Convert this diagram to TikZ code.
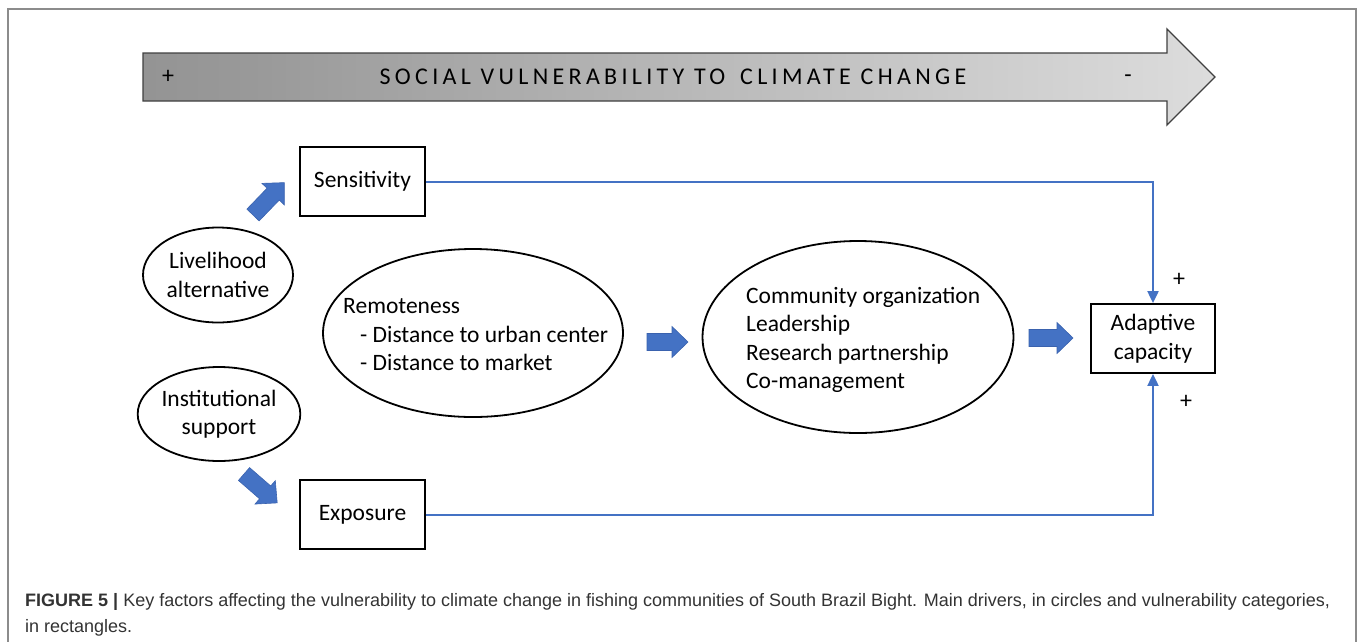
\documentclass[tikz,border=0pt]{standalone}
\usepackage{fontspec}
\setmainfont{Carlito}
\newfontfamily\capfont{Liberation Sans}
\usetikzlibrary{shapes.geometric,arrows.meta,calc}

\definecolor{linkblue}{HTML}{4472C4}
\definecolor{arrowedge}{HTML}{3A62AE}
\definecolor{capgray}{HTML}{333333}
\definecolor{framegray}{HTML}{8C8C8C}

% horizontal grey ramp for the vulnerability arrow
\pgfdeclarehorizontalshading{vulnshade}{100bp}{%
  color(0bp)=(black!52); color(30bp)=(black!40); color(60bp)=(black!22);
  color(85bp)=(black!8); color(100bp)=(black!5)}

\tikzset{
  txt/.style={font=\fontsize{23.5}{28.5}\selectfont},
  catbox/.style={txt, draw, line width=1.8pt, minimum width=125pt,
    minimum height=69pt, inner sep=0pt, align=center},
  driver/.style={txt, draw, ellipse, line width=1.8pt, inner sep=0pt, align=center},
  link/.style={draw=linkblue, line width=2pt, -{Triangle[length=12pt,width=11pt]}},
  sign/.style={font=\fontsize{24}{28}\selectfont, inner sep=0pt},
  captext/.style={text=capgray, anchor=base west, inner sep=0pt,
    font=\capfont\fontsize{18}{26}\selectfont},
}

% thick blue block arrow: tail point, angle, total length
\newcommand\bluearrow[3]{%
  \begin{scope}[shift={#1},rotate=#2]
    \filldraw[fill=linkblue, draw=arrowedge, line width=0.6pt]
      (0,-8.5) -- (#3-16,-8.5) -- (#3-16,-15.5) -- (#3,0) --
      (#3-16,15.5) -- (#3-16,8.5) -- (0,8.5) -- cycle;
  \end{scope}}

\begin{document}
\begin{tikzpicture}[x=1pt,y=-1pt]
\useasboundingbox (0,0) rectangle (1360,641);

% outer frame
\draw[framegray, line width=1.2pt] (8,645) -- (8,9) -- (1356,9) -- (1356,645);

% vulnerability arrow
\shadedraw[shading=vulnshade, draw=black!75, line width=1.3pt]
  (143,53) -- (1167,53) -- (1167,29) -- (1215,77) -- (1167,125) -- (1167,101) -- (143,101) -- cycle;
\node[sign] (vplus) at (168,77) {+};
\node[sign] (vminus) at (1128,79) {-};
\node[font=\fontsize{24}{28}\selectfont\addfontfeatures{LetterSpace=18}, inner sep=0pt]
  (vtitle) at (673,77) {SOCIAL VULNERABILITY TO\hspace{5pt} CLIMATE CHANGE};

% categories
\node[catbox] (sens) at (362.5,181.5) {Sensitivity};
\node[catbox] (expo) at (362.5,514.5) {Exposure};
\node[catbox, minimum width=124pt] (adapt) at (1153,338.5) {Adaptive\\capacity};

% drivers
\node[driver, minimum width=150pt, minimum height=95pt] (liv) at (218,275) {Livelihood\\alternative};
\node[driver, minimum width=152pt, minimum height=94pt] (inst) at (219,414) {Institutional\\support};
\node[driver, minimum width=300pt, minimum height=168pt] (rem) at (473,333) {};
\node[txt, anchor=west, align=left, inner sep=0pt] (remtxt) at (343,335)
  {Remoteness\\\hspace*{17pt}- Distance to urban center\\\hspace*{17pt}- Distance to market};
\node[driver, minimum width=311pt, minimum height=192pt] (comm) at (858,337) {};
\node[txt, anchor=west, align=left, inner sep=0pt] (commtxt) at (746,340)
  {Community organization\\Leadership\\Research partnership\\Co-management};

% block arrows
\bluearrow{(253,215)}{46}{45}
\bluearrow{(244,474)}{-41}{44}
\bluearrow{(647,342)}{0}{41}
\bluearrow{(1029,338)}{0}{44}

% links into adaptive capacity
\draw[link] (sens.east) -| (adapt.north);
\draw[link] (expo.east) -| (adapt.south);
\node[sign] (plusA) at (1179,280) {+};
\node[sign] (plusB) at (1186,402) {+};

% caption
\node[captext] (cap1) at (25,606) {\textbf{FIGURE 5 |} Key factors affecting the vulnerability to climate change in fishing communities of South Brazil Bight. Main drivers, in circles and vulnerability categories,};
\node[captext] (cap2) at (25,632) {in rectangles.};
\end{tikzpicture}
\end{document}
